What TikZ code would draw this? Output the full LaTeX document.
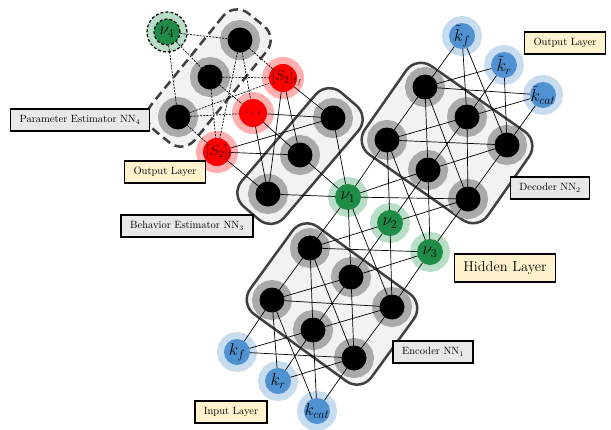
\documentclass[tikz,border=0pt]{standalone}
\usetikzlibrary{positioning}

\definecolor{ringgray}{RGB}{170,170,170}
\definecolor{boxfill}{RGB}{242,242,242}
\definecolor{boxline}{RGB}{64,64,64}
\definecolor{hidcore}{RGB}{30,140,70}
\definecolor{hidhalo}{RGB}{185,222,200}
\definecolor{iocore}{RGB}{80,145,210}
\definecolor{iohalo}{RGB}{200,220,240}
\definecolor{redcore}{RGB}{255,0,0}
\definecolor{redhalo}{RGB}{255,175,175}
\definecolor{redtext}{RGB}{40,0,0}
\definecolor{tagfill}{RGB}{232,232,232}
\definecolor{notefill}{RGB}{255,242,204}

\newcommand{\unitlbl}[1]{\makebox[0pt]{#1}}

\tikzset{
  neuron/.style={circle, fill=black, minimum size=25pt, inner sep=0pt, outer sep=0pt,
    preaction={draw=ringgray, line width=15pt}},
  unit/.style 2 args={circle, fill=#1, minimum size=26pt, inner sep=0pt, outer sep=0pt,
    font=\LARGE, preaction={draw=#2, line width=14pt}},
  statetxt/.style={inner sep=0pt, font=\Large, text=redtext},
  container/.style={draw=boxline, fill=boxfill, line width=2.5pt, rounded corners=18pt},
  link/.style={line width=0.7pt},
  dlink/.style={line width=0.7pt, dash pattern=on 2pt off 1.2pt},
  tagbox/.style={draw=black, line width=1.6pt, fill=tagfill, minimum height=22pt,
    inner xsep=9pt, font=\fontsize{10.5}{12}\selectfont},
  notebox/.style={tagbox, fill=notefill},
}

\begin{document}
\begin{tikzpicture}[x=1pt, y=-1pt]
\useasboundingbox (0,0) rectangle (611,429);

% containers
\node[container, rotate=-36, minimum width=150pt, minimum height=108pt] (encbox) at (332,304) {};
\node[container, rotate=-35, minimum width=150pt, minimum height=108pt] (decbox) at (447,143) {};
\node[container, rotate=49.5, minimum width=150pt, minimum height=56pt] (behbox) at (300,156) {};
\node[container, dash pattern=on 9pt off 5pt, rotate=51, minimum width=150pt, minimum height=56pt] (parbox) at (209,78) {};

% encoder
\node[neuron] (enc1) at (310,248) {};
\node[neuron] (enc2) at (351,277) {};
\node[neuron] (enc3) at (392,307) {};
\node[neuron] (enc4) at (272,300) {};
\node[neuron] (enc5) at (313,330) {};
\node[neuron] (enc6) at (354,358) {};

% decoder
\node[neuron] (dec1) at (425,87) {};
\node[neuron] (dec2) at (467,117) {};
\node[neuron] (dec3) at (507,145) {};
\node[neuron] (dec4) at (387,140) {};
\node[neuron] (dec5) at (428,170) {};
\node[neuron] (dec6) at (468,199) {};

% behavior and parameter estimators
\node[neuron] (beh1) at (333,118) {};
\node[neuron] (beh2) at (300,155) {};
\node[neuron] (beh3) at (268,194) {};
\node[neuron] (par1) at (240,40) {};
\node[neuron] (par2) at (210,77) {};
\node[neuron] (par3) at (178,117) {};

% inputs, hidden, outputs
\node[unit={iocore}{iohalo}] (in1) at (237,352) {\unitlbl{$k_f$}};
\node[unit={iocore}{iohalo}] (in2) at (278,381) {\unitlbl{$k_r$}};
\node[unit={iocore}{iohalo}] (in3) at (317,411) {\unitlbl{$k_{cat}$}};
\node[unit={hidcore}{hidhalo}] (h1) at (348,197) {\unitlbl{$\nu_1$}};
\node[unit={hidcore}{hidhalo}] (h2) at (390,223) {\unitlbl{$\nu_2$}};
\node[unit={hidcore}{hidhalo}] (h3) at (430,252) {\unitlbl{$\nu_3$}};
\node[unit={iocore}{iohalo}] (out1) at (462,36) {\unitlbl{$\tilde{k}_f$}};
\node[unit={iocore}{iohalo}] (out2) at (504,65) {\unitlbl{$\tilde{k}_r$}};
\node[unit={iocore}{iohalo}] (out3) at (543,95) {\unitlbl{$\tilde{k}_{cat}$}};
\node[unit={redcore}{redhalo}, minimum size=28pt] (s1) at (283,78) {};
\node[unit={redcore}{redhalo}, minimum size=28pt] (s2) at (253,113) {};
\node[unit={redcore}{redhalo}, minimum size=28pt] (s3) at (217,152) {};
\node[circle, minimum size=40pt, fill=hidhalo, draw=black, line width=1.2pt,
  dash pattern=on 3pt off 2pt] (h4halo) at (167,32) {};
\node[circle, minimum size=26pt, inner sep=0pt, fill=hidcore, draw=black, line width=1.2pt,
  dash pattern=on 3pt off 2pt, font=\LARGE] (h4) at (h4halo) {\unitlbl{$\nu_4$}};

% connections
\foreach \i in {1,2,3}
  \foreach \j in {4,5,6}
    \draw[link] (in\i) -- (enc\j);
\foreach \i in {4,5,6}
  \foreach \j in {1,2,3}
    \draw[link] (enc\i) -- (enc\j);
\foreach \i in {1,2,3}
  \foreach \j in {1,2,3}
    \draw[link] (enc\i) -- (h\j);
\foreach \i in {1,2,3}
  \foreach \j in {4,5,6}
    \draw[link] (h\i) -- (dec\j);
\foreach \i in {4,5,6}
  \foreach \j in {1,2,3}
    \draw[link] (dec\i) -- (dec\j);
\foreach \i in {1,2,3}
  \foreach \j in {1,2,3}
    \draw[link] (dec\i) -- (out\j);
\foreach \j in {1,2,3}
  \draw[link] (h1) -- (beh\j);
\foreach \i in {1,2,3}
  \foreach \j in {1,2,3}
    \draw[link] (beh\i) -- (s\j);
\foreach \j in {1,2,3}
  \draw[dlink] (h4) -- (par\j);
\foreach \i in {1,2,3}
  \foreach \j in {1,2,3}
    \draw[dlink] (par\i) -- (s\j);

% state texts above the links
\node[statetxt] (s1txt) at ([xshift=4pt]s1) {$[S_2]_{t_f}$};
\node[statetxt] (s2txt) at (s2) {$\cdots$};
\node[statetxt] (s3txt) at ([xshift=2pt]s3) {$[S_2]_t$};

% labels
\node[tagbox] (partag) at (80,120) {Parameter Estimator NN$_4$};
\node[notebox] (outtagl) at (165,172) {Output Layer};
\node[tagbox] (behtag) at (187,226) {Behavior Estimator NN$_3$};
\node[notebox] (outtagr) at (565,43) {Output Layer};
\node[tagbox] (dectag) at (550,188) {Decoder NN$_2$};
\node[notebox, minimum height=28pt, font=\Large] (hidtag) at (505,268) {Hidden Layer};
\node[tagbox] (enctag) at (433,352) {Encoder NN$_1$};
\node[notebox] (intag) at (231,412) {Input Layer};
\end{tikzpicture}
\end{document}
